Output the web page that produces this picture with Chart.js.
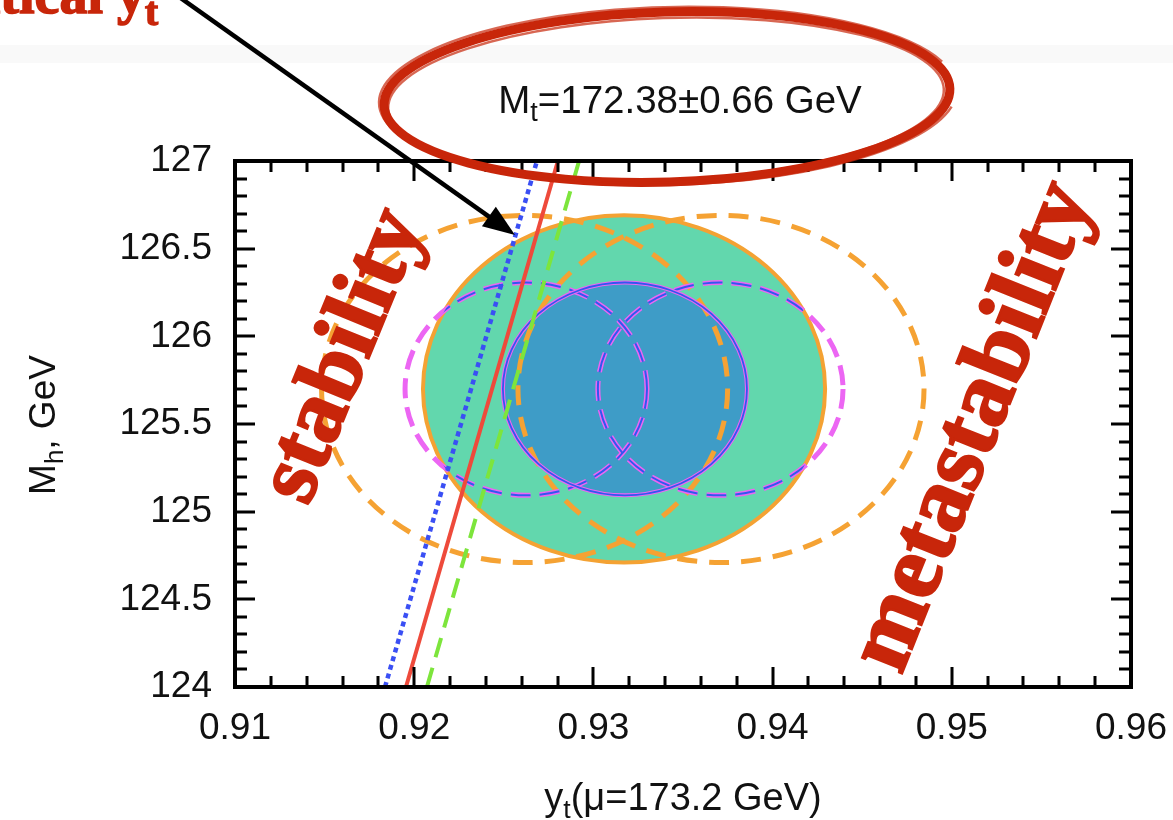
<!DOCTYPE html>
<html>
<head>
<meta charset="utf-8">
<script src="https://cdn.jsdelivr.net/npm/chart.js@4.4.1/dist/chart.umd.min.js"></script>
<style>
html, body { margin: 0; padding: 0; background: #fff; }
#wrap { width: 1173px; height: 820px; position: relative; }
</style>
</head>
<body>
<div id="wrap"><canvas id="grafico"></canvas></div>
<script>
// ejes
const xTickValues = [0.91, 0.92, 0.93, 0.94, 0.95, 0.96];
const xTickLabels = ['0.91', '0.92', '0.93', '0.94', '0.95', '0.96'];
const yTickValues = [124, 124.5, 125, 125.5, 126, 126.5, 127];
const yTickLabels = ['124', '124.5', '125', '125.5', '126', '126.5', '127'];

const lineMh = [124, 127];
const blueLineYt = [0.91837, 0.92685];
const redLineYt = [0.91954, 0.92802];
const greenLineYt = [0.92071, 0.92920];

// regiones rellenas (exterior, interior)
const regionCx = [0.93171, 0.93176];
const regionCy = [125.70, 125.70];
const regionRx = [0.01122, 0.00681];
const regionRy = [0.990, 0.607];

// contornos discontinuos desplazados en y_t
const orangeCx = [0.92616, 0.93712];
const orangeCy = [125.70, 125.70];
const orangeRx = [0.01133, 0.01133];
const orangeRy = [0.990, 0.990];

const magentaCx = [0.92624, 0.93709];
const magentaCy = [125.70, 125.70];
const magentaRx = [0.00675, 0.00684];
const magentaRy = [0.607, 0.607];

const ROJO = '#c8260a';
const SANS = '"Liberation Sans", Arial, sans-serif';
const SERIF = '"Liberation Serif", "Times New Roman", serif';

function ellipsePath(ctx, xs, ys, cx, cy, rx, ry) {
    const px = xs.getPixelForValue(cx);
    const py = ys.getPixelForValue(cy);
    const prx = Math.abs(xs.getPixelForValue(cx + rx) - px);
    const pry = Math.abs(ys.getPixelForValue(cy + ry) - py);
    ctx.beginPath();
    ctx.ellipse(px, py, prx, pry, 0, 0, Math.PI * 2);
}

// texto con subindices: parts = [[texto, esSub], ...]
function drawRich(ctx, parts, x, y, size, align, weight, family, grosor) {
    weight = weight || '';
    family = family || SANS;
    let total = 0;
    parts.forEach(function (p) {
        ctx.font = weight + ' ' + (p[1] ? size * 0.7 : size) + 'px ' + family;
        total += ctx.measureText(p[0]).width;
    });
    let cx = x;
    if (align === 'center') cx = x - total / 2;
    if (align === 'right') cx = x - total;
    ctx.textAlign = 'left';
    ctx.textBaseline = 'alphabetic';
    parts.forEach(function (p) {
        ctx.font = weight + ' ' + (p[1] ? size * 0.7 : size) + 'px ' + family;
        const yy = p[1] ? y + size * 0.22 : y;
        ctx.fillText(p[0], cx, yy);
        if (grosor) {
            ctx.lineWidth = grosor;
            ctx.strokeStyle = ctx.fillStyle;
            ctx.strokeText(p[0], cx, yy);
        }
        cx += ctx.measureText(p[0]).width;
    });
}

const dibujoPlugin = {
    id: 'dibujo',
    beforeDraw: function (chart) {
        const ctx = chart.ctx;
        ctx.save();
        ctx.fillStyle = '#f9f9f9';
        ctx.fillRect(0, 45, chart.width, 18);
        ctx.restore();
    },
    beforeDatasetsDraw: function (chart) {
        const ctx = chart.ctx;
        const xs = chart.scales.x;
        const ys = chart.scales.y;
        const a = chart.chartArea;
        ctx.save();
        ctx.beginPath();
        ctx.rect(a.left, a.top, a.right - a.left, a.bottom - a.top);
        ctx.clip();

        // region exterior
        ellipsePath(ctx, xs, ys, regionCx[0], regionCy[0], regionRx[0], regionRy[0]);
        ctx.fillStyle = '#62d7ad';
        ctx.fill();
        ctx.lineWidth = 4;
        ctx.strokeStyle = '#f4a233';
        ctx.stroke();

        // region interior
        ellipsePath(ctx, xs, ys, regionCx[1], regionCy[1], regionRx[1], regionRy[1]);
        ctx.fillStyle = '#3e9cc7';
        ctx.fill();

        // contornos naranjas
        ctx.setLineDash([20, 12]);
        ctx.lineWidth = 5;
        ctx.strokeStyle = '#f5a233';
        for (let i = 0; i < orangeCx.length; i++) {
            ellipsePath(ctx, xs, ys, orangeCx[i], orangeCy[i], orangeRx[i], orangeRy[i]);
            ctx.stroke();
        }

        // contornos magenta
        ctx.setLineDash([20, 9]);
        ctx.lineWidth = 5;
        ctx.strokeStyle = '#ec66f3';
        for (let i = 0; i < magentaCx.length; i++) {
            ellipsePath(ctx, xs, ys, magentaCx[i], magentaCy[i], magentaRx[i], magentaRy[i]);
            ctx.stroke();
        }

        // nucleo azul de los contornos magenta dentro de la region
        ctx.save();
        ellipsePath(ctx, xs, ys, regionCx[0], regionCy[0], regionRx[0], regionRy[0]);
        ctx.clip();
        ctx.lineWidth = 2;
        ctx.strokeStyle = '#3358ee';
        for (let i = 0; i < magentaCx.length; i++) {
            ellipsePath(ctx, xs, ys, magentaCx[i], magentaCy[i], magentaRx[i], magentaRy[i]);
            ctx.stroke();
        }
        ctx.restore();

        // borde de la region interior
        ctx.setLineDash([]);
        ellipsePath(ctx, xs, ys, regionCx[1], regionCy[1], regionRx[1], regionRy[1]);
        ctx.lineWidth = 4;
        ctx.strokeStyle = '#ec66f3';
        ctx.stroke();
        ctx.lineWidth = 1.8;
        ctx.strokeStyle = '#3358ee';
        ctx.stroke();
        ctx.restore();
    },
    afterDatasetsDraw: function (chart) {
        const ctx = chart.ctx;
        const xs = chart.scales.x;
        const ys = chart.scales.y;
        const a = chart.chartArea;
        ctx.save();
        ctx.strokeStyle = '#000';
        ctx.lineWidth = 3;
        ctx.beginPath();
        // marcas x
        for (let k = 0; k <= 25; k++) {
            const v = xs.min + k * 0.002;
            const px = Math.round(xs.getPixelForValue(v));
            const len = (k % 5 === 0) ? 20 : 11;
            ctx.moveTo(px, a.bottom); ctx.lineTo(px, a.bottom - len);
            ctx.moveTo(px, a.top); ctx.lineTo(px, a.top + len);
        }
        // marcas y
        for (let k = 0; k <= 30; k++) {
            const v = ys.min + k * 0.1;
            const py = Math.round(ys.getPixelForValue(v));
            const len = (k % 5 === 0) ? 20 : 12;
            ctx.moveTo(a.left, py); ctx.lineTo(a.left + len, py);
            ctx.moveTo(a.right, py); ctx.lineTo(a.right - len, py);
        }
        ctx.stroke();
        ctx.lineWidth = 4;
        ctx.strokeRect(a.left, a.top, a.right - a.left, a.bottom - a.top);
        ctx.restore();
    },
    afterDraw: function (chart) {
        const ctx = chart.ctx;
        const a = chart.chartArea;
        ctx.save();
        ctx.fillStyle = '#111';

        // titulos de ejes
        drawRich(ctx, [['y', false], ['t', true], ['(\u03bc=173.2 GeV)', false]],
            (a.left + a.right) / 2, 810, 38, 'center');
        ctx.save();
        ctx.translate(55, 425);
        ctx.rotate(-Math.PI / 2);
        drawRich(ctx, [['M', false], ['h', true], [', GeV', false]], 0, 0, 37, 'center');
        ctx.restore();

        // textos rotados
        ctx.fillStyle = ROJO;
        ctx.strokeStyle = ROJO;
        ctx.lineWidth = 2.5;
        ctx.textAlign = 'center';
        ctx.textBaseline = 'alphabetic';
        ctx.font = 'bold 89px ' + SERIF;
        ctx.save();
        ctx.translate(347, 357);
        ctx.rotate(-67.8 * Math.PI / 180);
        ctx.fillText('stability', 0, 89 * 0.23);
        ctx.strokeText('stability', 0, 89 * 0.23);
        ctx.restore();

        ctx.font = 'bold 93px ' + SERIF;
        ctx.save();
        ctx.translate(977, 428);
        ctx.rotate(-68.2 * Math.PI / 180);
        ctx.fillText('metastability', 0, 93 * 0.23);
        ctx.strokeText('metastability', 0, 93 * 0.23);
        ctx.restore();

        // texto superior izquierdo
        drawRich(ctx, [['critical y', false], ['t', true]], 158, 13, 56, 'right', 'bold', SERIF, 1.5);

        // elipse roja a mano
        ctx.strokeStyle = ROJO;
        ctx.lineWidth = 9;
        ctx.beginPath();
        ctx.ellipse(667, 97, 283, 85, -0.03, 0, Math.PI * 2);
        ctx.stroke();
        ctx.globalAlpha = 0.7;
        ctx.lineWidth = 2.5;
        ctx.beginPath();
        ctx.ellipse(668, 96, 289, 89, -0.025, 0.2, Math.PI * 1.9);
        ctx.stroke();
        ctx.beginPath();
        ctx.ellipse(666, 99, 278, 81, -0.035, 0, Math.PI * 2);
        ctx.stroke();
        ctx.globalAlpha = 1;

        // texto Mt
        ctx.fillStyle = '#111';
        drawRich(ctx, [['M', false], ['t', true], ['=172.38\u00b10.66 GeV', false]], 680, 113, 38.5, 'center');

        // flecha
        const tipX = 515, tipY = 235;
        const ang = Math.atan2(tipY - 0, tipX - 183);
        const len = 32, half = 12;
        const bx = tipX - len * Math.cos(ang);
        const by = tipY - len * Math.sin(ang);
        ctx.strokeStyle = '#000';
        ctx.lineWidth = 4.5;
        ctx.beginPath();
        ctx.moveTo(175, -6);
        ctx.lineTo(bx + 4 * Math.cos(ang), by + 4 * Math.sin(ang));
        ctx.stroke();
        ctx.fillStyle = '#000';
        ctx.beginPath();
        ctx.moveTo(tipX, tipY);
        ctx.lineTo(bx - half * Math.sin(ang), by + half * Math.cos(ang));
        ctx.lineTo(bx + half * Math.sin(ang), by - half * Math.cos(ang));
        ctx.closePath();
        ctx.fill();
        ctx.restore();
    }
};

function serie(yt, color, width, dash) {
    return {
        data: lineMh.map(function (m, i) { return { x: yt[i], y: m }; }),
        showLine: true,
        borderColor: color,
        borderWidth: width,
        borderDash: dash,
        pointRadius: 0,
        fill: false
    };
}

new Chart(document.getElementById('grafico'), {
    type: 'scatter',
    data: {
        datasets: [
            serie(blueLineYt, '#3a4ff4', 4.5, [5, 4]),
            serie(greenLineYt, '#7de53c', 4, [20, 11]),
            serie(redLineYt, '#ee4a3b', 4, [])
        ]
    },
    options: {
        responsive: true,
        maintainAspectRatio: false,
        animation: false,
        devicePixelRatio: 1,
        layout: { padding: { top: 161, right: 42, left: 0, bottom: 0 } },
        plugins: { legend: { display: false }, tooltip: { enabled: false } },
        scales: {
            x: {
                type: 'linear',
                min: 0.91,
                max: 0.96,
                grid: { display: false, drawTicks: false },
                border: { display: false },
                afterBuildTicks: function (s) { s.ticks = xTickValues.map(function (v) { return { value: v }; }); },
                afterFit: function (s) { s.height = 133; s.paddingLeft = 0; s.paddingRight = 0; },
                ticks: {
                    padding: 20,
                    maxRotation: 0,
                    autoSkip: false,
                    color: '#111',
                    font: { family: SANS, size: 37 },
                    callback: function (v, i) { return xTickLabels[i]; }
                }
            },
            y: {
                type: 'linear',
                min: 124,
                max: 127,
                grid: { display: false, drawTicks: false },
                border: { display: false },
                afterBuildTicks: function (s) { s.ticks = yTickValues.map(function (v) { return { value: v }; }); },
                afterFit: function (s) { s.width = 235; s.paddingTop = 0; s.paddingBottom = 0; },
                ticks: {
                    padding: 23,
                    autoSkip: false,
                    color: '#111',
                    font: { family: SANS, size: 37 },
                    callback: function (v, i) { return yTickLabels[i]; }
                }
            }
        }
    },
    plugins: [dibujoPlugin]
});
</script>
</body>
</html>
